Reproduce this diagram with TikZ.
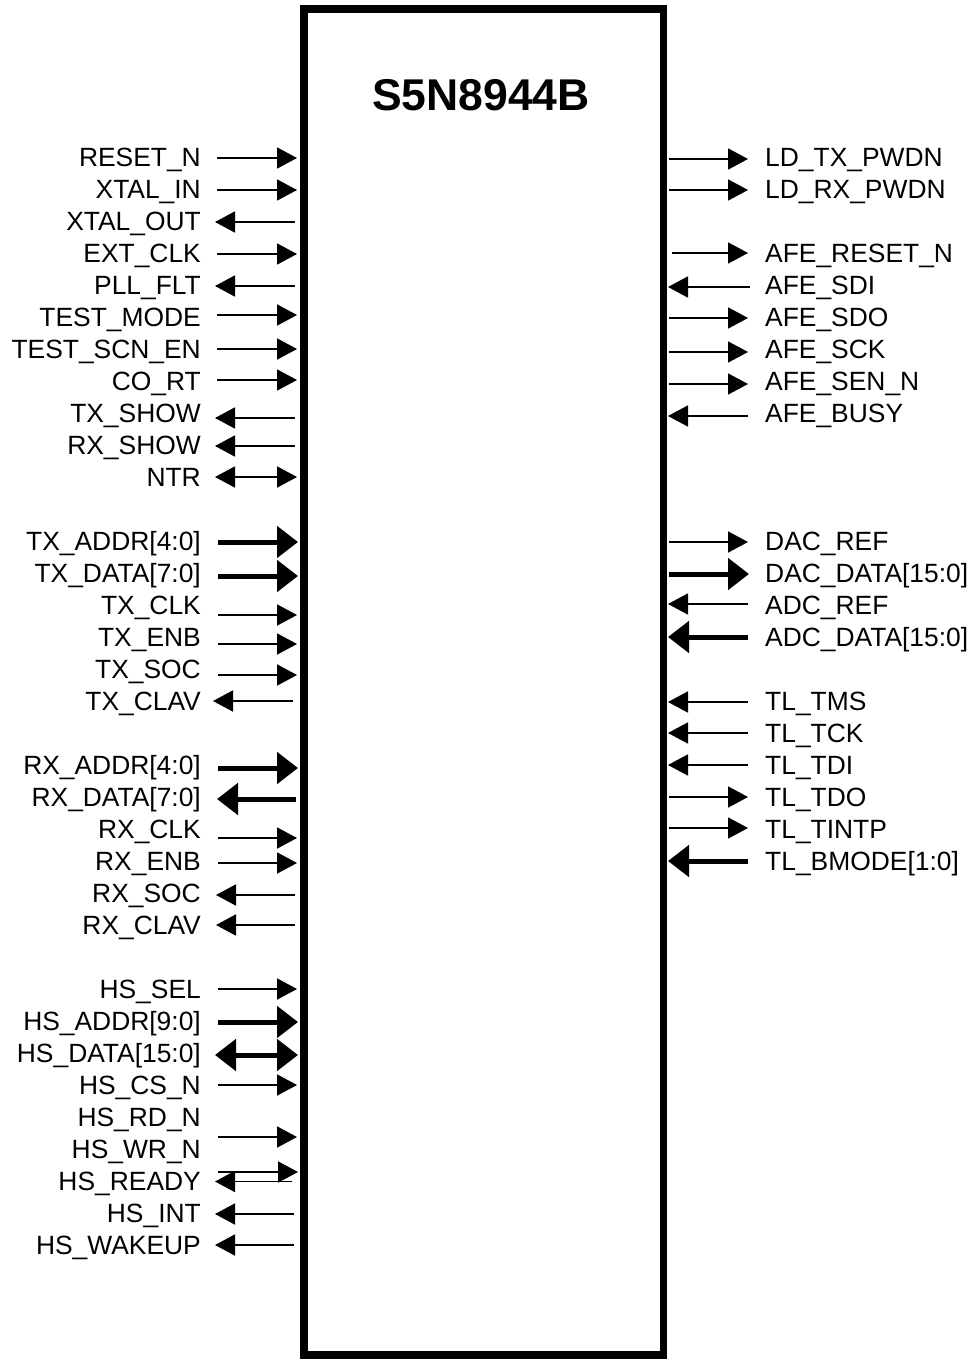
\documentclass[tikz,border=0pt]{standalone}
\usepackage{fontspec}
\setmainfont{Liberation Sans}
\usetikzlibrary{arrows.meta}
\tikzset{
  lbl/.style={font=\fontsize{26.4}{30}\selectfont, inner sep=0pt},
  ttl/.style={font=\fontsize{44.5}{50}\selectfont\bfseries, inner sep=0pt},
  chipbox/.style={draw, line width=7.5pt, inner sep=0pt},
  tn/.style={line width=1.9pt, -{Triangle[length=20pt,width=21pt]}},
  tb/.style={line width=1.9pt, {Triangle[length=20pt,width=21pt]}-{Triangle[length=20pt,width=21pt]}},
  kn/.style={line width=5pt, -{Triangle[length=21pt,width=31pt]}},
  kb/.style={line width=5pt, {Triangle[length=21pt,width=31pt]}-{Triangle[length=21pt,width=31pt]}},
}
% left pin: id, label, text y, arrow y, x start, x end, style
\newcommand\Lpin[7]{%
  \node[lbl,anchor=base east] (#1) at (201,#3+9.4) {#2};
  \coordinate (#1a) at (#5,#4);
  \coordinate (#1b) at (#6,#4);
  \draw[#7] (#1a) -- (#1b);}
\newcommand\Rpin[7]{%
  \node[lbl,anchor=base west] (#1) at (765,#3+9.4) {#2};
  \coordinate (#1a) at (#5,#4);
  \coordinate (#1b) at (#6,#4);
  \draw[#7] (#1a) -- (#1b);}
\begin{document}
\begin{tikzpicture}[x=1pt,y=-1pt]
\useasboundingbox (0,0) rectangle (977,1359);
\node[chipbox, minimum width=359.5pt, minimum height=1346pt] (chip) at (483.75,682) {};
\node[ttl, anchor=base] (title) at (481,110.8) {S5N8944B};
% left side
\Lpin{rst}{RESET\_N}{157.5}{158}{217}{297}{tn}
\Lpin{xin}{XTAL\_IN}{189.5}{190}{217}{297}{tn}
\Lpin{xout}{XTAL\_OUT}{221.5}{222}{295}{215}{tn}
\Lpin{ext}{EXT\_CLK}{253.5}{254}{217}{297}{tn}
\Lpin{pll}{PLL\_FLT}{285.5}{286}{295}{215}{tn}
\Lpin{tm}{TEST\_MODE}{317.5}{315}{217}{297}{tn}
\Lpin{tsc}{TEST\_SCN\_EN}{349.5}{349}{217}{297}{tn}
\Lpin{cort}{CO\_RT}{381.5}{380}{217}{297}{tn}
\Lpin{txs}{TX\_SHOW}{413.5}{418}{295}{215}{tn}
\Lpin{rxs}{RX\_SHOW}{445.5}{446}{295}{215}{tn}
\Lpin{ntr}{NTR}{477.5}{477}{215}{297}{tb}
\Lpin{txa}{TX\_ADDR[4:0]}{541.5}{542}{218}{298}{kn}
\Lpin{txd}{TX\_DATA[7:0]}{573.5}{576}{218}{298}{kn}
\Lpin{txc}{TX\_CLK}{605.5}{615}{218}{297}{tn}
\Lpin{txe}{TX\_ENB}{637.5}{644}{218}{297}{tn}
\Lpin{txo}{TX\_SOC}{669.5}{675}{218}{297}{tn}
\Lpin{txv}{TX\_CLAV}{701.5}{701}{293}{213}{tn}
\Lpin{rxa}{RX\_ADDR[4:0]}{765.5}{768}{218}{298}{kn}
\Lpin{rxd}{RX\_DATA[7:0]}{797.5}{799}{296}{217}{kn}
\Lpin{rxc}{RX\_CLK}{829.5}{838}{218}{297}{tn}
\Lpin{rxe}{RX\_ENB}{861.5}{863}{218}{297}{tn}
\Lpin{rxo}{RX\_SOC}{893.5}{895}{295}{216}{tn}
\Lpin{rxv}{RX\_CLAV}{925.5}{925}{295}{216}{tn}
\Lpin{hsel}{HS\_SEL}{989.5}{989}{218}{297}{tn}
\Lpin{hadr}{HS\_ADDR[9:0]}{1021.5}{1022}{218}{298}{kn}
\Lpin{hdat}{HS\_DATA[15:0]}{1053.5}{1055}{215}{298}{kb}
\Lpin{hcs}{HS\_CS\_N}{1085.5}{1085}{218}{297}{tn}
\node[lbl,anchor=base east] (hrd) at (201,1117.5+9.4) {HS\_RD\_N};
\Lpin{hwr}{HS\_WR\_N}{1149.5}{1137}{218}{297}{tn}
\Lpin{hrdy}{HS\_READY}{1181.5}{1172}{218}{298}{tn}
\coordinate (hrdyc) at (292,1181.5);
\coordinate (hrdyd) at (215,1181.5);
\draw[tn] (hrdyc) -- (hrdyd);
\Lpin{hint}{HS\_INT}{1213.5}{1214}{294}{215}{tn}
\Lpin{hwk}{HS\_WAKEUP}{1245.5}{1245}{294}{215}{tn}
% right side
\Rpin{ldtx}{LD\_TX\_PWDN}{157.5}{159}{669}{748}{tn}
\Rpin{ldrx}{LD\_RX\_PWDN}{189.5}{190}{669}{748}{tn}
\Rpin{afer}{AFE\_RESET\_N}{253.5}{253}{672}{748}{tn}
\Rpin{afei}{AFE\_SDI}{285.5}{287}{750}{668}{tn}
\Rpin{afeo}{AFE\_SDO}{317.5}{318}{669}{748}{tn}
\Rpin{afek}{AFE\_SCK}{349.5}{352}{669}{748}{tn}
\Rpin{afen}{AFE\_SEN\_N}{381.5}{384}{669}{748}{tn}
\Rpin{afeb}{AFE\_BUSY}{413.5}{416}{748}{668}{tn}
\Rpin{dacr}{DAC\_REF}{541.5}{542}{669}{748}{tn}
\Rpin{dacd}{DAC\_DATA[15:0]}{573.5}{574}{669}{749}{kn}
\Rpin{adcr}{ADC\_REF}{605.5}{604}{748}{668}{tn}
\Rpin{adcd}{ADC\_DATA[15:0]}{637.5}{637}{748}{668}{kn}
\Rpin{tms}{TL\_TMS}{701.5}{702}{748}{668}{tn}
\Rpin{tck}{TL\_TCK}{733.5}{733}{748}{668}{tn}
\Rpin{tdi}{TL\_TDI}{765.5}{765}{748}{668}{tn}
\Rpin{tdo}{TL\_TDO}{797.5}{797}{669}{748}{tn}
\Rpin{tint}{TL\_TINTP}{829.5}{828}{669}{748}{tn}
\Rpin{tbm}{TL\_BMODE[1:0]}{861.5}{861}{748}{668}{kn}
\end{tikzpicture}
\end{document}
